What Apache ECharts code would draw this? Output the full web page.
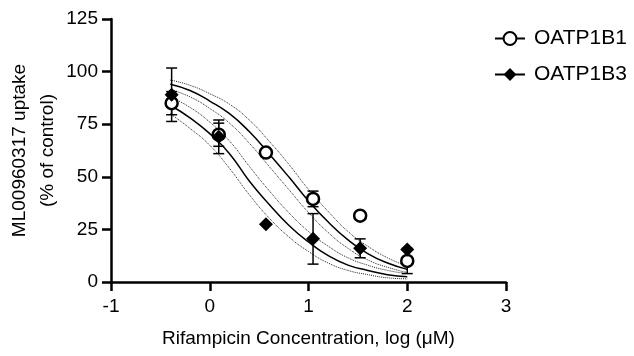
<!DOCTYPE html>
<html>
<head>
<meta charset="utf-8">
<script src="https://cdn.jsdelivr.net/npm/echarts@6/dist/echarts.min.js"></script>
<style>
  html, body { margin: 0; padding: 0; background: #fff; }
  #chart { width: 634px; height: 356px; }
</style>
</head>
<body>
<div id="chart"></div>
<script>
// log10 concentration (µM), 3-fold dilutions
const doseX = [-0.386, 0.091, 0.569, 1.046, 1.523, 2.0];

const b1Mean = [85, 70, 61.5, 39.5, 31.5, 10];
const b1Err = [5.5, 5.5, 0, 3.7, 0, 6];
const b3Mean = [89, 69, 27.5, 20.5, 16, 15.5];
const b3Err = [12.7, 8, 0, 12, 4.5, 0];

// fitted curves and 95% bands
const fitX = [-0.4, -0.2, 0, 0.2, 0.4, 0.6, 0.8, 1.0, 1.2, 1.4, 1.6, 1.8, 2.0];
const b1Fit = [94, 91, 86, 80, 71.5, 61, 50, 38.5, 28.5, 20, 13.5, 9, 6];
const b1Hi = [96, 93.5, 89.5, 84.5, 77, 67, 56, 44, 33.5, 24, 17, 11.5, 7.5];
const b1Lo = [91.5, 88, 82.5, 75.5, 66, 55, 44, 33, 23.5, 16, 10.5, 7, 4.5];
const b3Fit = [84, 78, 70.5, 61, 48, 37, 27, 19, 12.5, 8, 5.5, 3.5, 2.5];
const b3Hi = [88, 83, 76, 67, 55, 43.5, 33, 24, 17, 11.5, 8, 5.5, 4];
const b3Lo = [80, 73, 65, 54, 41.5, 30.5, 21.5, 14.5, 9, 5.5, 3.5, 2, 1.5];

const xTicks = [-1, 0, 1, 2, 3];
const yTicks = [0, 25, 50, 75, 100, 125];

const font = "'Liberation Sans', Arial, sans-serif";
const chart = echarts.init(document.getElementById("chart"));

const pairs = (xs, ys) => xs.map((x, i) => [x, ys[i]]);
const triples = (ys, es) => doseX.map((x, i) => [x, ys[i], es[i]]);

function curve(data, dotted) {
  return {
    type: "line",
    data: data,
    smooth: true,
    symbol: "none",
    silent: true,
    z: 2,
    lineStyle: { color: dotted ? "#222" : "#000", width: dotted ? 1 : 1.5, type: dotted ? "dotted" : "solid" },
  };
}

function errorBars(data) {
  return {
    type: "custom",
    data: data,
    z: 3,
    silent: true,
    renderItem: (params, api) => {
      const x = api.value(0), y = api.value(1), e = api.value(2);
      if (!e) return null;
      const top = api.coord([x, y + e]);
      const bot = api.coord([x, y - e]);
      const w = 5.5;
      const st = { stroke: "#000", lineWidth: 1.5 };
      return {
        type: "group",
        children: [
          { type: "line", shape: { x1: top[0], y1: top[1], x2: bot[0], y2: bot[1] }, style: st },
          { type: "line", shape: { x1: top[0] - w, y1: top[1], x2: top[0] + w, y2: top[1] }, style: st },
          { type: "line", shape: { x1: bot[0] - w, y1: bot[1], x2: bot[0] + w, y2: bot[1] }, style: st },
        ],
      };
    },
  };
}

const option = {
  animation: false,
  textStyle: { fontFamily: font },
  grid: { left: 111, right: 128, top: 19, bottom: 74, outerBoundsMode: "none" },
  legend: {
    orient: "vertical",
    left: 489,
    top: 23,
    itemGap: 15,
    itemWidth: 30,
    itemHeight: 16,
    data: ["OATP1B1", "OATP1B3"],
    textStyle: { fontSize: 21, color: "#000", fontFamily: font, padding: [0, 0, 0, 4] },
    lineStyle: { color: "#000", width: 2, opacity: 1 },
  },
  xAxis: {
    type: "value",
    min: -1,
    max: 3,
    interval: 1,
    name: "Rifampicin Concentration, log (μM)",
    nameLocation: "middle",
    nameGap: 47,
    nameMoveOverlap: false,
    nameTextStyle: { fontSize: 19, color: "#000" },
    axisLine: { onZero: false, lineStyle: { color: "#000", width: 2.5 } },
    axisTick: { length: 9, lineStyle: { color: "#000", width: 2.5 } },
    axisLabel: { fontSize: 19, color: "#000", margin: 15, formatter: v => xTicks.includes(v) ? String(v) : "" },
    splitLine: { show: false },
  },
  yAxis: {
    type: "value",
    min: 0,
    max: 125,
    interval: 25,
    name: "ML00960317 uptake\n(% of control)",
    nameLocation: "middle",
    nameGap: 49,
    nameMoveOverlap: false,
    nameTextStyle: { fontSize: 19, color: "#000", lineHeight: 28, align: "center" },
    axisLine: { show: true, onZero: false, lineStyle: { color: "#000", width: 2.5 } },
    axisTick: { show: true, length: 9, lineStyle: { color: "#000", width: 2.5 } },
    axisLabel: { fontSize: 19, color: "#000", margin: 13, formatter: v => yTicks.includes(v) ? String(v) : "" },
    splitLine: { show: false },
  },
  series: [
    curve(pairs(fitX, b1Hi), true),
    curve(pairs(fitX, b1Lo), true),
    curve(pairs(fitX, b3Hi), true),
    curve(pairs(fitX, b3Lo), true),
    curve(pairs(fitX, b1Fit), false),
    curve(pairs(fitX, b3Fit), false),
    errorBars(triples(b1Mean, b1Err)),
    errorBars(triples(b3Mean, b3Err)),
    {
      name: "OATP1B1",
      type: "line",
      data: pairs(doseX, b1Mean),
      symbol: "circle",
      symbolSize: 12,
      z: 5,
      lineStyle: { width: 0 },
      itemStyle: { color: "#fff", borderColor: "#000", borderWidth: 2.5 },
    },
    {
      name: "OATP1B3",
      type: "line",
      data: pairs(doseX, b3Mean),
      symbol: "diamond",
      symbolSize: 14,
      z: 6,
      lineStyle: { width: 0 },
      itemStyle: { color: "#000", borderColor: "#000", borderWidth: 0 },
    },
  ],
};

chart.setOption(option);
</script>
</body>
</html>
